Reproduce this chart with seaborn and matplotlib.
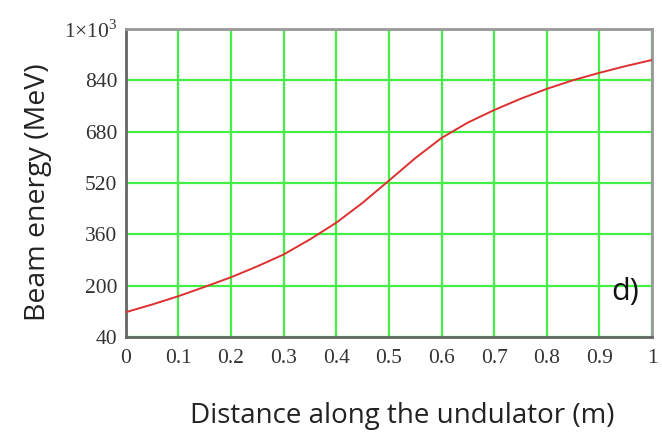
import matplotlib
matplotlib.use("Agg")
import matplotlib.pyplot as plt
import matplotlib.ticker as mticker
import seaborn as sns
import pandas as pd

# Beam energy along the undulator
distance_m = [0.00, 0.05, 0.10, 0.15, 0.20, 0.25, 0.30, 0.35, 0.40, 0.45, 0.50,
              0.55, 0.60, 0.65, 0.70, 0.75, 0.80, 0.85, 0.90, 0.95, 1.00]
energy_mev = [117, 141, 167, 196, 226, 260, 297, 344, 396, 458, 527,
              597, 660, 708, 747, 782, 813, 840, 863, 884, 903]

x_ticks = [0, 0.1, 0.2, 0.3, 0.4, 0.5, 0.6, 0.7, 0.8, 0.9, 1]
y_ticks = [40, 200, 360, 520, 680, 840, 1000]
y_tick_labels = ["40", "200", "360", "520", "680", "840", r"1$\times$10$^3$"]

sns.set_style("white")
plt.rcParams["font.family"] = ["DejaVu Sans"]
plt.rcParams["mathtext.fontset"] = "custom"
plt.rcParams["mathtext.rm"] = "Liberation Serif"

df = pd.DataFrame({"distance": distance_m, "energy": energy_mev})

fig = plt.figure(figsize=(6.62, 4.37), dpi=100)
ax = fig.add_axes([0.190, 0.229, 0.795, 0.705])

sns.lineplot(data=df, x="distance", y="energy", ax=ax, color="#dd3030",
             linewidth=1.4, zorder=3)

ax.set_xlim(0, 1)
ax.set_ylim(40, 1000)
ax.set_xticks(x_ticks)
ax.set_yticks(y_ticks)
ax.xaxis.set_major_formatter(mticker.FuncFormatter(lambda v, p: f"{v:g}"))
ax.set_yticklabels(y_tick_labels)

ax.grid(True, color="#44ee44", linewidth=1.6, zorder=1)
ax.set_axisbelow(True)

for side, col in [("left", "#666666"), ("bottom", "#666666"),
                  ("top", "#999999"), ("right", "#999999")]:
    ax.spines[side].set_visible(True)
    ax.spines[side].set_color(col)
    ax.spines[side].set_linewidth(2.0)

ax.tick_params(axis="both", which="both", length=3, width=1, color="#666666",
               direction="out")
ax.tick_params(axis="x", pad=6)
ax.tick_params(axis="y", pad=3)
for lab in ax.get_xticklabels() + ax.get_yticklabels():
    lab.set_fontfamily("Liberation Serif")
    lab.set_fontsize(15.5)
    lab.set_color("#333333")

ax.set_xlabel("")
ax.set_ylabel("")
fig.text(0.607, 0.048, "Distance along the undulator (m)", ha="center",
         va="center", fontsize=20, family="Open Sans", color="#222222")
fig.text(0.057, 0.561, "Beam energy (MeV)", ha="center", va="center",
         rotation=90, fontsize=20.5, family="Open Sans", color="#222222")

ax.text(0.949, 0.146, "d)", transform=ax.transAxes, ha="center", va="center",
        fontsize=22, family="Open Sans", color="#111111")

fig.savefig("out.png", dpi=100)
